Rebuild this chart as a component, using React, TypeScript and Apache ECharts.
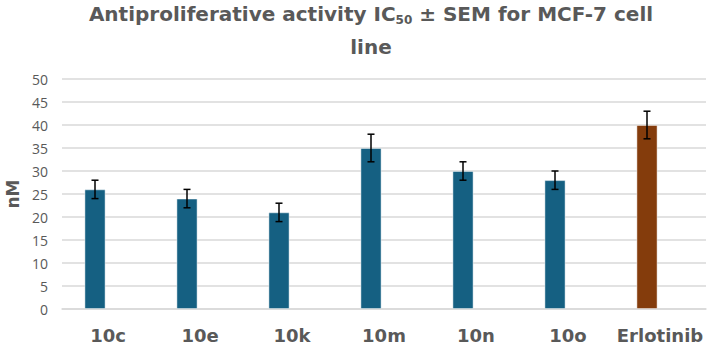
import React, { useEffect, useRef } from "react";
import * as echarts from "echarts";

const categories = ["10c", "10e", "10k", "10m", "10n", "10o", "Erlotinib"];
const ic50 = [26, 24, 21, 35, 30, 28, 40];
const sem = [2, 2, 2, 3, 2, 2, 3];
const barColors = ["#156082", "#156082", "#156082", "#156082", "#156082", "#156082", "#843C0C"];
const yTicks = { min: 0, max: 50, interval: 5 };
const titleText = "Antiproliferative activity IC{sub|50} ± SEM for MCF-7 cell\nline";

const BAR_W = 21;
const GAP = 5;

export default function App() {
  const ref = useRef<HTMLDivElement>(null);
  useEffect(() => {
    if (!ref.current) return;
    const chart = echarts.init(ref.current, null, { renderer: "svg" });
    const font = "'DejaVu Sans', 'Open Sans', sans-serif";
    const offset = -(BAR_W + GAP) / 2;
    chart.setOption({
      animation: false,
      backgroundColor: "#ffffff",
      graphic: [
        {
          type: "text",
          x: 371,
          y: -3,
          style: {
            text: titleText,
            align: "center",
            verticalAlign: "top",
            fontFamily: font,
            fontSize: 20,
            fontWeight: "bold",
            fill: "#595959",
            lineHeight: 33,
            rich: {
              sub: {
                fontFamily: font,
                fontSize: 12,
                fontWeight: "bold",
                fill: "#595959",
                padding: [12, 0, 0, 0],
                lineHeight: 33,
              },
            },
          },
        },
      ],
      grid: { left: 62, right: 2, top: 79, bottom: 37, outerBoundsMode: "none", containLabel: false },
      xAxis: {
        type: "category",
        data: categories,
        axisTick: { show: false },
        axisLine: { lineStyle: { color: "#D9D9D9", width: 1.5 } },
        axisLabel: {
          interval: 0,
          hideOverlap: false,
          fontFamily: font,
          fontSize: 18,
          fontWeight: "bold",
          color: "#595959",
          margin: 17,
        },
      },
      yAxis: {
        type: "value",
        min: yTicks.min,
        max: yTicks.max,
        interval: yTicks.interval,
        name: "nM",
        nameLocation: "middle",
        nameGap: 40,
        nameTextStyle: {
          fontFamily: font,
          fontSize: 17,
          fontWeight: "bold",
          color: "#595959",
        },
        axisLine: { show: false },
        axisTick: { show: false },
        axisLabel: {
          fontFamily: "'Open Sans', sans-serif",
          fontSize: 14,
          color: "#595959",
          margin: 14,
        },
        splitLine: { lineStyle: { color: "#D9D9D9", width: 1.5 } },
      },
      series: [
        {
          type: "bar",
          barWidth: BAR_W,
          barGap: (GAP / BAR_W) * 100 + "%",
          data: ic50.map((v, i) => ({
            value: v,
            itemStyle: { color: barColors[i], borderColor: "rgba(255,255,255,0.6)", borderWidth: 0.8 },
          })),
          z: 2,
        },
        {
          type: "bar",
          barWidth: BAR_W,
          data: ic50.map(() => null),
        },
        {
          type: "custom",
          z: 5,
          data: ic50.map((v, i) => [i, v - sem[i], v + sem[i]]),
          renderItem: (params: any, api: any) => {
            const idx = api.value(0);
            const lo = api.coord([idx, api.value(1)]);
            const hi = api.coord([idx, api.value(2)]);
            const x = lo[0] + offset;
            const half = 3.5;
            const style = { stroke: "#000000", lineWidth: 1.5, fill: "none" };
            return {
              type: "group",
              children: [
                { type: "line", shape: { x1: x, y1: lo[1], x2: x, y2: hi[1] }, style },
                { type: "line", shape: { x1: x - half, y1: hi[1], x2: x + half, y2: hi[1] }, style },
                { type: "line", shape: { x1: x - half, y1: lo[1], x2: x + half, y2: lo[1] }, style },
              ],
            };
          },
        },
      ],
    });
    return () => chart.dispose();
  }, []);
  return <div ref={ref} style={{ width: 708, height: 346, position: "absolute", left: 0, top: 0 }} />;
}
